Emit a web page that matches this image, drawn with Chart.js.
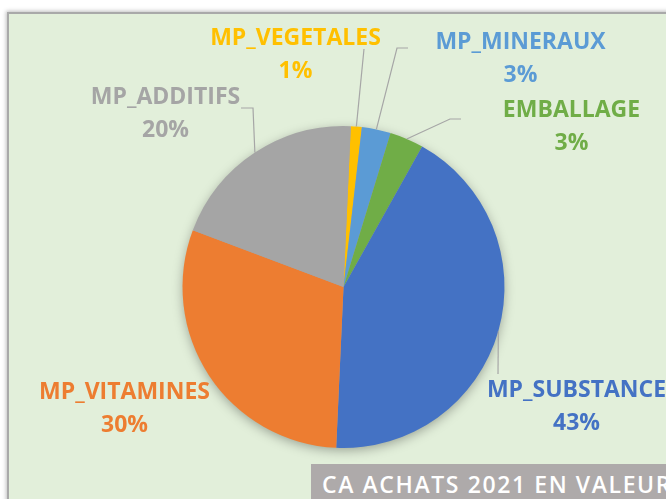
<!DOCTYPE html>
<html>
<head>
<meta charset="utf-8">
<script src="https://cdn.jsdelivr.net/npm/chart.js@4"></script>
<style>
    html, body { margin: 0; padding: 0; background: #ffffff; overflow: hidden; }
    body { width: 666px; height: 499px; position: relative; }
    .frame {
        position: absolute; left: 7px; top: 12px; width: 700px; height: 520px;
        background: #e2efda; border: 2px solid #a9a9a9;
        box-shadow: -1px -1px 4px rgba(0,0,0,0.25);
    }
    .title {
        position: absolute; left: 311px; top: 464px; width: 400px; height: 40px;
        background: #aeaaaa; color: #ffffff;
        font-family: "Open Sans", sans-serif; font-weight: 600; font-size: 23px;
        letter-spacing: 1.6px; line-height: 40px; padding-left: 11px; white-space: nowrap;
    }
    #wrap { position: absolute; left: 0; top: 0; width: 666px; height: 499px; }
</style>
</head>
<body>
<div class="frame"></div>
<div id="wrap"><canvas id="pie"></canvas></div>
<div class="title">CA ACHATS 2021 EN VALEUR</div>
<script>
// data (share of purchases, %)
const categories = ['MP_VEGETALES', 'MP_MINERAUX', 'EMBALLAGE', 'MP_SUBSTANCE', 'MP_VITAMINES', 'MP_ADDITIFS'];
const shares = [1.1, 2.9, 3.4, 42.6, 30.0, 20.0];
const colors = ['#ffc000', '#5b9bd5', '#70ad47', '#4472c4', '#ed7d31', '#a5a5a5'];

// where each label sits, relative to the pie centre (px)
const labelOffsets = [[-48, -249], [177, -245], [228, -177], [233, 103], [-219, 105], [-178, -190]];
// leader line bends, relative to the pie centre (px); starts at slice edge
const leaderBends = [
    [[20.5, -238]],
    [[53.5, -239], [64.5, -239]],
    [[106.5, -168], [117.5, -168]],
    [[154.5, 87]],
    [],
    [[-90.5, -179], [-102.5, -179]]
];

const pieShadow = {
    id: 'pieShadow',
    beforeDatasetsDraw(chart) {
        const arc = chart.getDatasetMeta(0).data[0];
        if (!arc) return;
        const ctx = chart.ctx;
        ctx.save();
        ctx.shadowColor = 'rgba(0,0,0,0.35)';
        ctx.shadowBlur = 12;
        ctx.shadowOffsetY = 3;
        ctx.fillStyle = '#a5a5a5';
        ctx.beginPath();
        ctx.arc(arc.x, arc.y, arc.outerRadius - 1, 0, Math.PI * 2);
        ctx.fill();
        ctx.restore();
    }
};

const pieLabels = {
    id: 'pieLabels',
    afterDatasetsDraw(chart) {
        const ctx = chart.ctx;
        const total = shares.reduce((a, b) => a + b, 0);
        chart.getDatasetMeta(0).data.forEach((arc, i) => {
            const mid = (arc.startAngle + arc.endAngle) / 2;
            const sx = arc.x + Math.cos(mid) * arc.outerRadius;
            const sy = arc.y + Math.sin(mid) * arc.outerRadius;

            // leader line
            if (leaderBends[i].length) {
                ctx.save();
                ctx.strokeStyle = '#a6a6a6';
                ctx.lineWidth = 1.2;
                ctx.beginPath();
                ctx.moveTo(sx, sy);
                leaderBends[i].forEach(p => ctx.lineTo(arc.x + p[0], arc.y + p[1]));
                ctx.stroke();
                ctx.restore();
            }

            // text
            const lx = arc.x + labelOffsets[i][0];
            const ly = arc.y + labelOffsets[i][1];
            ctx.save();
            ctx.fillStyle = colors[i];
            ctx.font = 'bold 23px "Open Sans", sans-serif';
            ctx.textAlign = 'center';
            ctx.textBaseline = 'middle';
            ctx.fillText(categories[i], lx, ly);
            ctx.fillText(Math.round(shares[i] / total * 100) + '%', lx, ly + 33);
            ctx.restore();
        });
    }
};

new Chart(document.getElementById('pie').getContext('2d'), {
    type: 'pie',
    data: {
        labels: categories,
        datasets: [{
            data: shares,
            backgroundColor: colors,
            borderWidth: 0
        }]
    },
    options: {
        responsive: true,
        maintainAspectRatio: false,
        animation: false,
        rotation: 2.6,
        layout: {
            padding: { left: 182.5, right: 161.5, top: 126, bottom: 51 }
        },
        plugins: {
            legend: { display: false },
            tooltip: { enabled: false }
        }
    },
    plugins: [pieShadow, pieLabels]
});
</script>
</body>
</html>
